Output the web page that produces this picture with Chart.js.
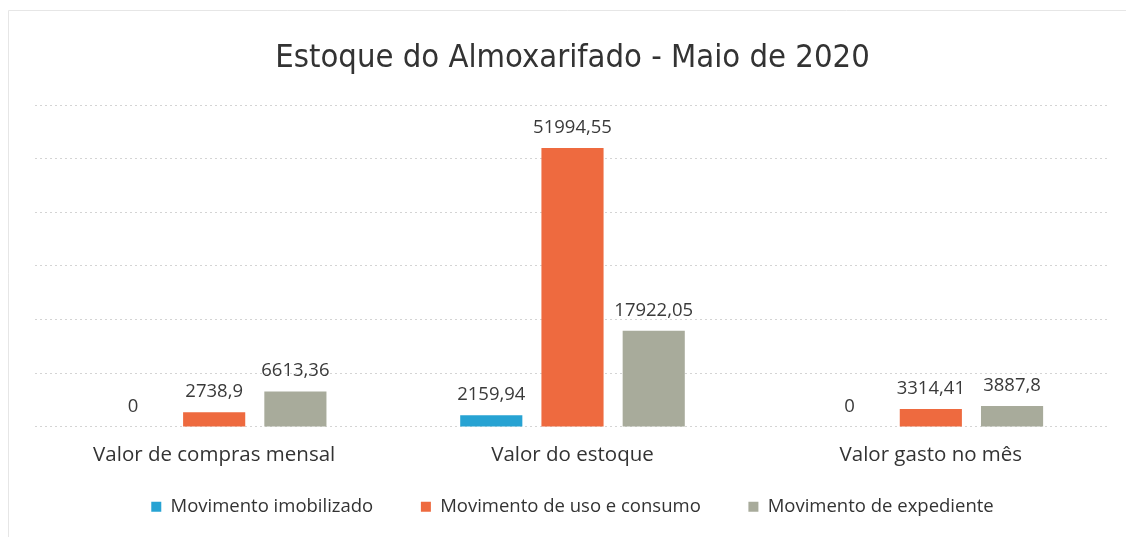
<!DOCTYPE html>
<html>
<head>
<meta charset="utf-8">
<script src="https://cdn.jsdelivr.net/npm/chart.js@4/dist/chart.umd.min.js"></script>
<style>
  html, body { margin: 0; padding: 0; background: #fff; }
  #wrap { width: 1126px; height: 537px; }
</style>
</head>
<body>
<div id="wrap"><canvas id="chart"></canvas></div>
<script>
    const categories = ['Valor de compras mensal', 'Valor do estoque', 'Valor gasto no mês'];
    const imobilizado = [0, 2159.94, 0];
    const usoConsumo = [2738.9, 51994.55, 3314.41];
    const expediente = [6613.36, 17922.05, 3887.8];
    const yTicks = [0, 10000, 20000, 30000, 40000, 50000, 60000];

    const fontFamily = '"Open Sans", "Noto Sans", sans-serif';
    const titleFamily = '"DejaVu Sans Condensed", "Open Sans", sans-serif';

    // valores em cima das barras, com virgula decimal
    const valueLabels = {
        id: 'valueLabels',
        afterDatasetsDraw(chart) {
            const ctx = chart.ctx;
            ctx.save();
            ctx.font = '18.5px ' + fontFamily;
            ctx.fillStyle = '#3a3a3a';
            ctx.textAlign = 'center';
            ctx.textBaseline = 'alphabetic';
            chart.data.datasets.forEach((ds, i) => {
                const meta = chart.getDatasetMeta(i);
                meta.data.forEach((bar, j) => {
                    const text = String(ds.data[j]).replace('.', ',');
                    ctx.fillText(text, bar.x, bar.y - 15);
                });
            });
            ctx.restore();
        }
    };

    // moldura clara do grafico (topo e lado esquerdo)
    const frame = {
        id: 'frame',
        beforeDraw(chart) {
            const ctx = chart.ctx;
            ctx.save();
            ctx.strokeStyle = '#e6e6e6';
            ctx.lineWidth = 1;
            ctx.beginPath();
            ctx.moveTo(8.5, chart.height);
            ctx.lineTo(8.5, 10.5);
            ctx.lineTo(chart.width, 10.5);
            ctx.stroke();
            ctx.restore();
        }
    };

    // espaco extra entre os itens da legenda
    const legendGap = '\u00a0'.repeat(7);

    new Chart(document.getElementById('chart'), {
        type: 'bar',
        data: {
            labels: categories,
            datasets: [
                { label: 'Movimento imobilizado', data: imobilizado, backgroundColor: '#27a3d3' },
                { label: 'Movimento de uso e consumo', data: usoConsumo, backgroundColor: '#ee6a3f' },
                { label: 'Movimento de expediente', data: expediente, backgroundColor: '#a8ab9b' }
            ]
        },
        options: {
            responsive: true,
            maintainAspectRatio: false,
            animation: false,
            datasets: {
                bar: { categoryPercentage: 0.68, barPercentage: 0.765 }
            },
            layout: { padding: { left: 35, right: 16, top: 8, bottom: 11 } },
            plugins: {
                title: {
                    display: true,
                    text: 'Estoque do Almoxarifado - Maio de 2020',
                    color: '#333',
                    font: { family: titleFamily, size: 32.5, weight: 'normal', lineHeight: 1.2 },
                    padding: { top: 31, bottom: 27 }
                },
                legend: {
                    position: 'bottom',
                    labels: {
                        color: '#333',
                        font: { family: fontFamily, size: 18.5 },
                        boxWidth: 10,
                        boxHeight: 10,
                        padding: 14,
                        generateLabels(chart) {
                            const items = Chart.defaults.plugins.legend.labels.generateLabels(chart);
                            items.forEach((it, i) => {
                                if (i < items.length - 1) it.text = it.text + legendGap;
                            });
                            return items;
                        }
                    }
                },
                tooltip: { enabled: false }
            },
            scales: {
                x: {
                    grid: { display: false, drawTicks: false },
                    border: { display: false },
                    ticks: { color: '#333', font: { family: fontFamily, size: 20.5 }, padding: 16 }
                },
                y: {
                    min: yTicks[0],
                    max: yTicks[yTicks.length - 1],
                    afterBuildTicks: axis => { axis.ticks = yTicks.map(v => ({ value: v })); },
                    ticks: { display: false },
                    border: { display: false, dash: [2, 3] },
                    grid: { color: '#d4d4d4', drawTicks: false }
                }
            }
        },
        plugins: [valueLabels, frame]
    });
</script>
</body>
</html>
